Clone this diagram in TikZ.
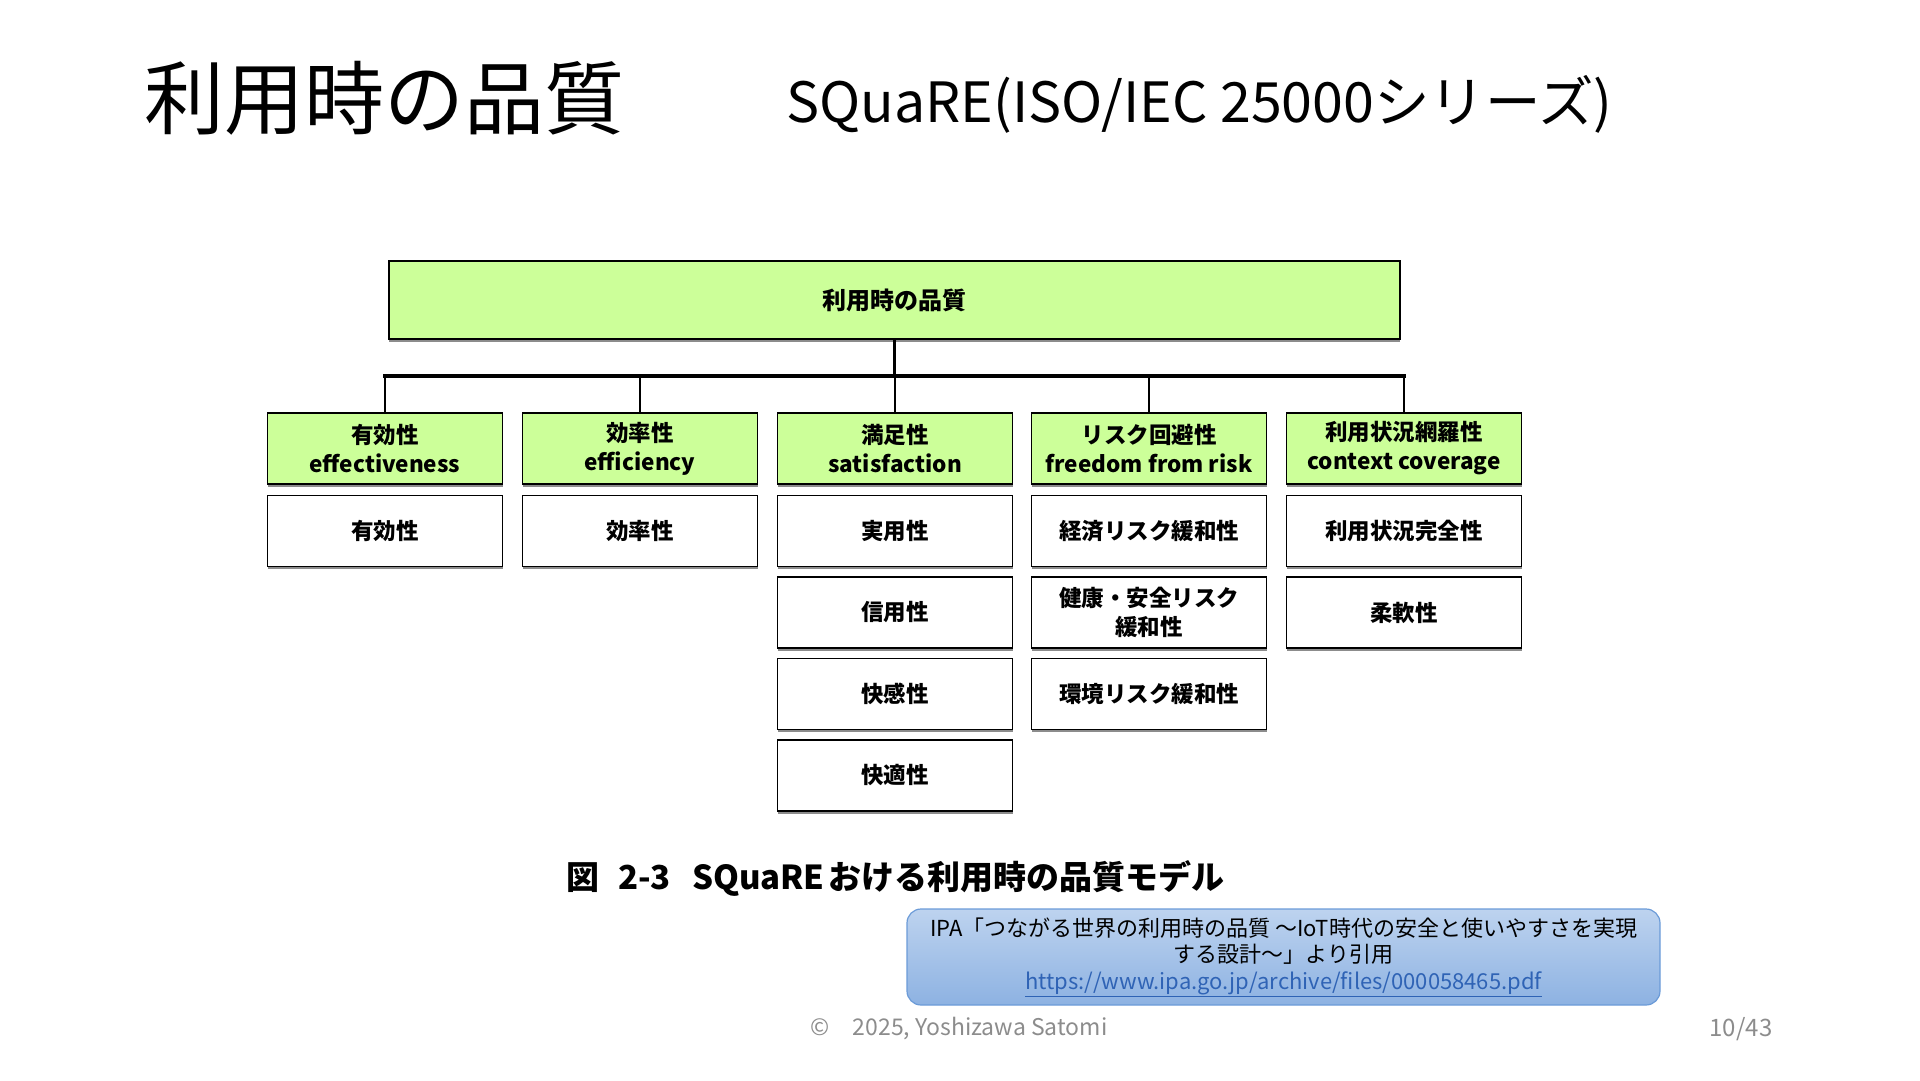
\documentclass[tikz,border=0pt]{standalone}
\usepackage{fontspec}
\setmainfont{Noto Sans CJK JP}
\usetikzlibrary{shadows}
\definecolor{lgreen}{HTML}{CCFF99}
\definecolor{notetop}{HTML}{BDD3EF}
\definecolor{notebot}{HTML}{8DB2E2}
\definecolor{noteedge}{HTML}{6B9BD8}
\definecolor{urlblue}{HTML}{2F63B5}
\definecolor{footgray}{HTML}{8C8C8C}
\newcommand{\fs}[2]{\fontsize{#1}{#2}\selectfont}
\tikzset{
  hdr/.style={draw=black,fill=lgreen,line width=1.5,minimum width=235,minimum height=71,
    inner sep=0,align=center,font=\bfseries\fs{22.5}{29},
    drop shadow={shadow xshift=0pt,shadow yshift=-2.5pt,fill=black!45,opacity=1}},
  sub/.style={hdr,fill=white},
  link/.style={line width=2.5},
  busline/.style={line width=4,line cap=rect},
}

\begin{document}
\begin{tikzpicture}[x=1pt,y=-1pt]
	\useasboundingbox (0,0) rectangle (1920,1080);

	% title
	\node[anchor=west,font=\fs{80}{92}] (title) at (141,98) {利用時の品質};
	\node[anchor=west,font=\fs{55.5}{62}] (series) at (783,104) {SQuaRE(ISO/IEC 25000シリーズ)};

	\node[hdr,minimum width=1011,minimum height=78,font=\bfseries\fs{24}{28}] (q) at (894.5,300) {利用時の品質};

	\node[hdr] (eff) at (385,448.5) {有効性\\effectiveness};
	\node[hdr] (effi) at (640,448.5) {効率性\\efficiency};
	\node[hdr] (sat) at (895,448.5) {満足性\\satisfaction};
	\node[hdr] (risk) at (1149,448.5) {リスク回避性\\freedom from risk};
	\node[hdr] (ctx) at (1404,448.5) {利用状況網羅性\\context coverage};

	\node[sub] (eff1) at (385,531) {有効性};
	\node[sub] (effi1) at (640,531) {効率性};
	\node[sub] (sat1) at (895,531) {実用性};
	\node[sub] (sat2) at (895,612.5) {信用性};
	\node[sub] (sat3) at (895,694) {快感性};
	\node[sub] (sat4) at (895,775.5) {快適性};
	\node[sub] (risk1) at (1149,531) {経済リスク緩和性};
	\node[sub] (risk2) at (1149,612.5) {健康・安全リスク\\緩和性};
	\node[sub] (risk3) at (1149,694) {環境リスク緩和性};
	\node[sub] (ctx1) at (1404,531) {利用状況完全性};
	\node[sub] (ctx2) at (1404,612.5) {柔軟性};

	% tree lines
	\coordinate (bus) at (0,376);
	\draw[link] (q.south) -- (q.south |- bus);
	\draw[link] (eff.north) -- (eff.north |- bus);
	\draw[link] (effi.north) -- (effi.north |- bus);
	\draw[link] (sat.north) -- (sat.north |- bus);
	\draw[link] (risk.north) -- (risk.north |- bus);
	\draw[link] (ctx.north) -- (ctx.north |- bus);
	\draw[busline] (eff.north |- bus) -- (ctx.north |- bus);

	\node[font=\bfseries\fs{33}{38}] (cap) at (895.5,878)
		{図\hspace{0.55em}2-3\hspace{0.64em}SQuaRE\hspace{0.1em}おける利用時の品質モデル};

	% source note
	\node[draw=noteedge,line width=1.2,rounded corners=14,top color=notetop,bottom color=notebot,
		minimum width=753,minimum height=96,align=center,font=\fs{22}{26.5}] (note) at (1283.5,957)
		{IPA「つながる世界の利用時の品質 ～IoT時代の安全と使いやすさを実現\\
		 する設計～」より引用\\
		 {\color{urlblue}\underline{https://www.ipa.go.jp/archive/files/000058465.pdf}}};

	\node[text=footgray,font=\fs{23}{26}] (copy) at (959,1029) {©\quad 2025, Yoshizawa Satomi};
	\node[text=footgray,font=\fs{24}{26}] (pg) at (1741,1029) {10/43};
\end{tikzpicture}
\end{document}
